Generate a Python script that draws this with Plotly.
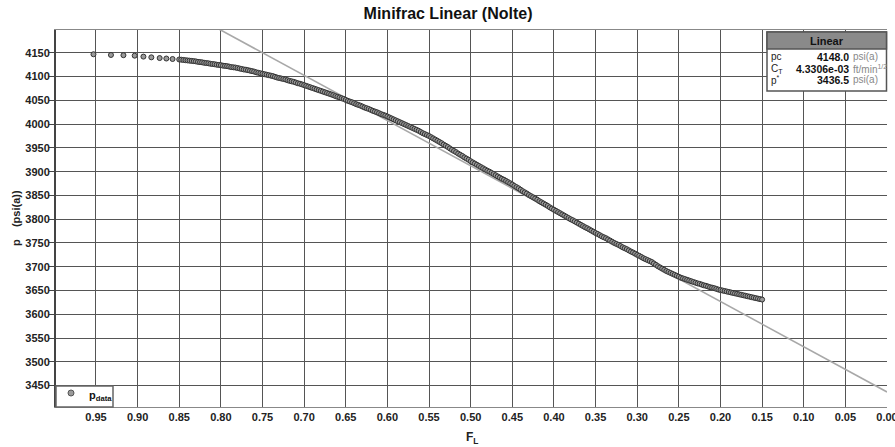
import plotly.graph_objects as go

# Nolte linear analysis: pressure vs. fluid-loss function F_L
F_L = [
    0.953, 0.932, 0.917, 0.9035, 0.893, 0.8835, 0.8735, 0.8655, 0.858,
    0.8500, 0.8475, 0.8450, 0.8425, 0.8400, 0.8375, 0.8350, 0.8325, 0.8300, 0.8275,
    0.8250, 0.8225, 0.8200, 0.8175, 0.8150, 0.8125, 0.8100, 0.8075, 0.8050, 0.8025,
    0.8000, 0.7975, 0.7950, 0.7925, 0.7900, 0.7875, 0.7850, 0.7825, 0.7800, 0.7775,
    0.7750, 0.7725, 0.7700, 0.7675, 0.7650, 0.7625, 0.7600, 0.7575, 0.7550, 0.7525,
    0.7500, 0.7475, 0.7450, 0.7425, 0.7400, 0.7375, 0.7350, 0.7325, 0.7300, 0.7275,
    0.7250, 0.7225, 0.7200, 0.7175, 0.7150, 0.7125, 0.7100, 0.7075, 0.7050, 0.7025,
    0.7000, 0.6975, 0.6950, 0.6925, 0.6900, 0.6875, 0.6850, 0.6825, 0.6800, 0.6775,
    0.6750, 0.6725, 0.6700, 0.6675, 0.6650, 0.6625, 0.6600, 0.6575, 0.6550, 0.6525,
    0.6500, 0.6475, 0.6450, 0.6425, 0.6400, 0.6375, 0.6350, 0.6325, 0.6300, 0.6275,
    0.6250, 0.6225, 0.6200, 0.6175, 0.6150, 0.6125, 0.6100, 0.6075, 0.6050, 0.6025,
    0.6000, 0.5975, 0.5950, 0.5925, 0.5900, 0.5875, 0.5850, 0.5825, 0.5800, 0.5775,
    0.5750, 0.5725, 0.5700, 0.5675, 0.5650, 0.5625, 0.5600, 0.5575, 0.5550, 0.5525,
    0.5500, 0.5475, 0.5450, 0.5425, 0.5400, 0.5375, 0.5350, 0.5325, 0.5300, 0.5275,
    0.5250, 0.5225, 0.5200, 0.5175, 0.5150, 0.5125, 0.5100, 0.5075, 0.5050, 0.5025,
    0.5000, 0.4975, 0.4950, 0.4925, 0.4900, 0.4875, 0.4850, 0.4825, 0.4800, 0.4775,
    0.4750, 0.4725, 0.4700, 0.4675, 0.4650, 0.4625, 0.4600, 0.4575, 0.4550, 0.4525,
    0.4500, 0.4475, 0.4450, 0.4425, 0.4400, 0.4375, 0.4350, 0.4325, 0.4300, 0.4275,
    0.4250, 0.4225, 0.4200, 0.4175, 0.4150, 0.4125, 0.4100, 0.4075, 0.4050, 0.4025,
    0.4000, 0.3975, 0.3950, 0.3925, 0.3900, 0.3875, 0.3850, 0.3825, 0.3800, 0.3775,
    0.3750, 0.3725, 0.3700, 0.3675, 0.3650, 0.3625, 0.3600, 0.3575, 0.3550, 0.3525,
    0.3500, 0.3475, 0.3450, 0.3425, 0.3400, 0.3375, 0.3350, 0.3325, 0.3300, 0.3275,
    0.3250, 0.3225, 0.3200, 0.3175, 0.3150, 0.3125, 0.3100, 0.3075, 0.3050, 0.3025,
    0.3000, 0.2975, 0.2950, 0.2925, 0.2900, 0.2875, 0.2850, 0.2825, 0.2800, 0.2775,
    0.2750, 0.2725, 0.2700, 0.2675, 0.2650, 0.2625, 0.2600, 0.2575, 0.2550, 0.2525,
    0.2500, 0.2475, 0.2450, 0.2425, 0.2400, 0.2375, 0.2350, 0.2325, 0.2300, 0.2275,
    0.2250, 0.2225, 0.2200, 0.2175, 0.2150, 0.2125, 0.2100, 0.2075, 0.2050, 0.2025,
    0.2000, 0.1975, 0.1950, 0.1925, 0.1900, 0.1875, 0.1850, 0.1825, 0.1800, 0.1775,
    0.1750, 0.1725, 0.1700, 0.1675, 0.1650, 0.1625, 0.1600, 0.1575, 0.1550, 0.1525,
    0.1500,
]
p_data = [
    4147, 4145.5, 4145, 4144, 4142, 4140.5, 4139, 4138, 4137,
    4136, 4135.5, 4135, 4134.5, 4134, 4133.5, 4133, 4132.5, 4132, 4131,
    4130.5, 4130, 4129, 4128.5, 4128, 4127, 4126.5, 4126, 4125, 4124.5,
    4124, 4123, 4122.5, 4122, 4121, 4120, 4119.5, 4119, 4118, 4117,
    4116, 4115, 4114.5, 4113.5, 4112.5, 4111.5, 4110.5, 4109, 4108, 4107,
    4106, 4105, 4104, 4103, 4102, 4101, 4099.5, 4098, 4097, 4096,
    4095, 4094, 4092.5, 4091, 4090, 4089, 4087.5, 4086, 4085, 4083.5,
    4082, 4080.5, 4079, 4077.5, 4076, 4074.5, 4073, 4071.5, 4070, 4068.5,
    4067, 4065.5, 4064, 4062.5, 4061, 4059, 4057.5, 4056, 4054.5, 4053,
    4051, 4049, 4047.5, 4046, 4044, 4042, 4040.5, 4039, 4037, 4035,
    4033.5, 4032, 4030, 4028, 4026.5, 4025, 4023, 4021, 4019.5, 4018,
    4016, 4014, 4012, 4010, 4008, 4006, 4004, 4002, 4000, 3998,
    3996, 3994, 3992, 3990, 3988, 3986, 3983.5, 3981, 3979, 3977,
    3975, 3972.5, 3970, 3967.5, 3965, 3962.5, 3960, 3957, 3954.5, 3952,
    3949, 3946, 3943.5, 3941, 3938, 3935.5, 3933, 3930, 3927.5, 3925,
    3922, 3919.5, 3917, 3914.5, 3912, 3909.5, 3907, 3904.5, 3902, 3900,
    3897.5, 3895, 3892.5, 3890, 3887.5, 3885, 3883, 3880.5, 3878, 3875.5,
    3873, 3870, 3867.5, 3865, 3862, 3859, 3856.5, 3854, 3851, 3848.5,
    3846, 3843.5, 3841, 3838, 3835.5, 3833, 3830.5, 3828, 3825, 3822.5,
    3820, 3817.5, 3815, 3812.5, 3810, 3807.5, 3805, 3802.5, 3800, 3798,
    3795.5, 3793, 3790.5, 3788, 3785.5, 3783, 3781, 3778.5, 3776, 3773.5,
    3771, 3769, 3766.5, 3764, 3762, 3760, 3757.5, 3755, 3752.5, 3750,
    3748, 3746, 3743.5, 3741, 3739, 3737, 3734.5, 3732, 3730, 3727.5,
    3725, 3723, 3720.5, 3718, 3716, 3714, 3712, 3710, 3707, 3704,
    3701, 3698.5, 3696, 3693.5, 3691, 3689, 3687, 3685, 3683, 3681,
    3679, 3677, 3675.5, 3674, 3672.5, 3671, 3669.5, 3668, 3666.5, 3665,
    3664, 3662.5, 3661, 3660, 3658.5, 3657, 3656, 3655, 3653.5, 3652,
    3651, 3650, 3649, 3648, 3647, 3646, 3645, 3644, 3643, 3642,
    3641, 3640, 3639, 3638, 3637, 3636, 3635, 3634, 3633, 3632,
    3631,
]

# Straight-line fit: p = p* + m * F_L
p_star = 3436.5
slope_m = 951.5
line_F = [0.0, 1.0]
line_p = [p_star + slope_m * f for f in line_F]

# Results table
res_names = ["pc", "C<sub>T</sub>", "p<sup>*</sup>"]
res_values = ["4148.0", "4.3306e-03", "3436.5"]
res_units = ["psi(a)", "ft/min<sup>1/2</sup>", "psi(a)"]

x_ticks = [0.95, 0.90, 0.85, 0.80, 0.75, 0.70, 0.65, 0.60, 0.55, 0.50,
           0.45, 0.40, 0.35, 0.30, 0.25, 0.20, 0.15, 0.10, 0.05, 0.00]
y_ticks = [3450, 3500, 3550, 3600, 3650, 3700, 3750, 3800, 3850, 3900,
           3950, 4000, 4050, 4100, 4150]

FONT = "Liberation Sans, Arial, sans-serif"
W, H = 895, 447
ML, MR, MT, MB = 56, 8, 30, 40
PW, PH = W - ML - MR, H - MT - MB


def px(x):
    return (x - ML) / PW


def py(y):
    return (H - MB - y) / PH


fig = go.Figure()
fig.add_trace(go.Scatter(
    x=line_F, y=line_p, mode="lines",
    line=dict(color="#a8a8a8", width=1.6),
    showlegend=False, hoverinfo="skip"))
fig.add_trace(go.Scatter(
    x=F_L, y=p_data, mode="markers", name="p<sub>data</sub>",
    showlegend=False,
    marker=dict(symbol="circle", size=5, color="#9a9a9a",
                line=dict(color="#333", width=1))))

fig.update_layout(
    width=W, height=H,
    margin=dict(l=ML, r=MR, t=MT, b=MB, autoexpand=False),
    paper_bgcolor="white", plot_bgcolor="white",
    font=dict(family=FONT, size=11, color="#222"),
    title=dict(text="<b>Minifrac Linear (Nolte)</b>", x=px(472), xanchor="center",
               y=1 - 13 / H, yanchor="middle",
               font=dict(size=16, color="#111", family=FONT)),
    showlegend=False,
)

fig.update_xaxes(
    range=[0.998, 0.0], tickvals=x_ticks,
    ticktext=["<b>%.2f</b>" % v for v in x_ticks],
    ticklabeloverflow="allow", automargin=False,
    showgrid=True, gridcolor="#555", gridwidth=1,
    zeroline=False, ticks="", showline=True, linecolor="#888", linewidth=1,
    mirror=True,
    tickfont=dict(size=11, color="#222"),
)
fig.update_yaxes(
    range=[3405, 4198], tickvals=y_ticks,
    ticktext=["<b>%d</b>" % v for v in y_ticks],
    automargin=False,
    showgrid=True, gridcolor="#555", gridwidth=1,
    zeroline=False, ticks="outside", ticklen=5, tickcolor="#444",
    ticklabelstandoff=-3,
    showline=True, linecolor="#444", linewidth=2,
    tickfont=dict(size=11, color="#222"),
)

# Axis titles
fig.add_annotation(xref="paper", yref="paper", x=px(472), y=py(438),
                   text="<b>F<sub>L</sub></b>", showarrow=False,
                   xanchor="center", yanchor="middle",
                   font=dict(size=12, color="#222"))
fig.add_annotation(xref="paper", yref="paper", x=px(16), y=py(218),
                   text="<b>p&nbsp;&nbsp;&nbsp;&nbsp;(psi(a))</b>", showarrow=False,
                   textangle=-90, xanchor="center", yanchor="middle",
                   font=dict(size=11, color="#222"))

# Legend box in the lower-left corner
fig.add_shape(type="rect", xref="paper", yref="paper",
              x0=0, x1=px(113), y0=0, y1=py(386),
              fillcolor="white", line=dict(color="#666", width=1.5))
fig.add_shape(type="circle", xref="paper", yref="paper",
              xsizemode="pixel", ysizemode="pixel",
              xanchor=px(71), yanchor=py(393),
              x0=-3, x1=3, y0=-3, y1=3,
              fillcolor="#9a9a9a", line=dict(color="#555", width=1))
fig.add_annotation(xref="paper", yref="paper", x=px(87), y=py(396),
                   text="<b>p<sub>data</sub></b>", showarrow=False,
                   xanchor="left", yanchor="middle",
                   font=dict(size=11, color="#111"))

# Results box in the upper-right corner
bx0, bx1 = px(767), px(886.5)
by_top, by_head, by_bot = py(32), py(49), py(91)
fig.add_shape(type="rect", xref="paper", yref="paper",
              x0=bx0, x1=bx1, y0=by_bot, y1=by_top,
              fillcolor="white", line=dict(color="#555", width=1.5))
fig.add_shape(type="rect", xref="paper", yref="paper",
              x0=bx0, x1=bx1, y0=by_head, y1=by_top,
              fillcolor="#8a8a8a", line=dict(color="#555", width=1.5))
fig.add_annotation(xref="paper", yref="paper", x=(bx0 + bx1) / 2,
                   y=(by_head + by_top) / 2, text="<b>Linear</b>",
                   showarrow=False, font=dict(size=11, color="#111"),
                   xanchor="center", yanchor="middle")
row_y = [py(57), py(68.5), py(80)]
for name, val, unit, yy in zip(res_names, res_values, res_units, row_y):
    fig.add_annotation(xref="paper", yref="paper", x=px(769), y=yy,
                       text=name, showarrow=False, xanchor="left",
                       yanchor="middle", font=dict(size=10, color="#222"))
    fig.add_annotation(xref="paper", yref="paper", x=px(851), y=yy,
                       text="<b>%s</b>" % val, showarrow=False,
                       xanchor="right", yanchor="middle",
                       font=dict(size=10.5, color="#111"))
    fig.add_annotation(xref="paper", yref="paper", x=px(851), y=yy,
                       text=unit, showarrow=False, xanchor="left",
                       yanchor="middle", font=dict(size=10, color="#888"))

fig.write_html("out.html")
